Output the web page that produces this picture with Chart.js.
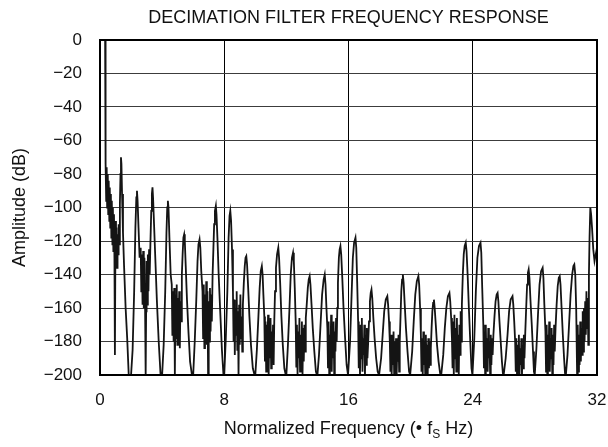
<!DOCTYPE html>
<html><head><meta charset="utf-8">
<script src="https://cdn.jsdelivr.net/npm/chart.js@4.4.1/dist/chart.umd.min.js"></script>
<style>
html,body{margin:0;padding:0;background:#fff;}
#wrap{position:relative;width:608px;height:447px;overflow:hidden;}
canvas{position:absolute;left:0;top:0;}
#xtitle{position:absolute;left:100px;width:497px;top:418px;text-align:center;font:18px "Liberation Sans", Arial, sans-serif;color:#111;white-space:nowrap;}
#xtitle sub{font-size:12px;vertical-align:-4px;line-height:0;}
</style></head><body>
<div id="wrap"><canvas id="c" width="608" height="447"></canvas>
<div id="xtitle">Normalized Frequency (• f<sub>S</sub> Hz)</div></div>
<script>
const chartTitle = "DECIMATION FILTER FREQUENCY RESPONSE";
const yAxisTitle = "Amplitude (dB)";
const xTickValues = [0, 8, 16, 24, 32];
const yTickValues = [0, -20, -40, -60, -80, -100, -120, -140, -160, -180, -200];

// Normalized frequency (x) and amplitude in dB (y)
const freqNorm = [
  0, 0.33, 0.36, 0.40, 0.43, 0.46, 0.50, 0.53, 0.56, 0.60, 0.63, 0.66, 0.70, 0.73, 0.76, 0.80, 0.83, 0.86, 0.90, 0.93, 0.96, 1.00, 1.03, 1.06, 1.10, 1.13, 1.17, 1.20, 1.24, 1.28, 1.32, 1.35, 1.38, 1.42, 1.48, 1.55, 1.65, 1.75, 1.85, 1.92,
  2.00, 2.10, 2.20, 2.28, 2.34, 2.38, 2.42, 2.48, 2.55, 2.62, 2.66, 2.70, 2.74, 2.78, 2.82, 2.86, 2.90, 2.94, 2.97, 3.00, 3.04, 3.08, 3.12, 3.16, 3.20, 3.25, 3.30, 3.34, 3.38, 3.42, 3.48, 3.56, 3.66, 3.78, 3.90,
  4.00, 4.10, 4.20, 4.28, 4.33, 4.37, 4.41, 4.47, 4.55, 4.62, 4.66, 4.70, 4.74, 4.78, 4.82, 4.86, 4.90, 4.94, 4.98, 5.02, 5.06, 5.10, 5.14, 5.18, 5.22, 5.27, 5.32, 5.37, 5.42, 5.46, 5.52, 5.60, 5.70, 5.80, 5.92,
  6.00, 6.10, 6.20, 6.28, 6.34, 6.41, 6.46, 6.52, 6.60, 6.64, 6.68, 6.72, 6.76, 6.80, 6.84, 6.88, 6.92, 6.96, 7.00, 7.04, 7.08, 7.12, 7.16, 7.20, 7.25, 7.30, 7.35, 7.40, 7.46, 7.50, 7.56, 7.64, 7.74, 7.85, 7.95,
  8.00, 8.10, 8.20, 8.28, 8.34, 8.39, 8.44, 8.50, 8.56, 8.60, 8.64, 8.68, 8.72, 8.76, 8.80, 8.84, 8.88, 8.92, 8.96, 9.00, 9.04, 9.08, 9.12, 9.16, 9.20, 9.26, 9.32, 9.37, 9.42, 9.47, 9.54, 9.62, 9.72, 9.84, 9.95,
  10.00, 10.10, 10.20, 10.28, 10.35, 10.42, 10.47, 10.52, 10.58, 10.62, 10.66, 10.70, 10.74, 10.78, 10.82, 10.86, 10.90, 10.94, 10.98, 11.02, 11.06, 11.10, 11.14, 11.18, 11.22, 11.27, 11.33, 11.40, 11.48, 11.53, 11.60, 11.68, 11.77, 11.87, 11.96,
  12.00, 12.10, 12.20, 12.28, 12.36, 12.43, 12.48, 12.54, 12.60, 12.64, 12.68, 12.72, 12.76, 12.80, 12.84, 12.88, 12.92, 12.96, 13.00, 13.04, 13.08, 13.12, 13.16, 13.20, 13.25, 13.31, 13.38, 13.44, 13.50, 13.55, 13.62, 13.70, 13.80, 13.90, 13.97,
  14.00, 14.10, 14.20, 14.30, 14.40, 14.47, 14.52, 14.58, 14.64, 14.68, 14.72, 14.76, 14.80, 14.84, 14.88, 14.92, 14.96, 15.00, 15.04, 15.08, 15.12, 15.16, 15.20, 15.24, 15.28, 15.32, 15.38, 15.43, 15.48, 15.53, 15.60, 15.68, 15.78, 15.88, 15.97,
  16.00, 16.10, 16.20, 16.28, 16.36, 16.45, 16.50, 16.56, 16.62, 16.66, 16.70, 16.74, 16.78, 16.82, 16.86, 16.90, 16.94, 16.98, 17.02, 17.06, 17.10, 17.14, 17.18, 17.22, 17.27, 17.32, 17.38, 17.43, 17.48, 17.53, 17.60, 17.68, 17.78, 17.88, 17.97,
  18.00, 18.10, 18.20, 18.30, 18.40, 18.50, 18.55, 18.61, 18.66, 18.70, 18.74, 18.78, 18.82, 18.86, 18.90, 18.94, 18.98, 19.02, 19.06, 19.10, 19.14, 19.18, 19.22, 19.26, 19.30, 19.35, 19.40, 19.45, 19.50, 19.55, 19.62, 19.70, 19.80, 19.90, 19.97,
  20.00, 20.10, 20.20, 20.30, 20.40, 20.50, 20.55, 20.61, 20.66, 20.70, 20.74, 20.78, 20.82, 20.86, 20.90, 20.94, 20.98, 21.02, 21.06, 21.10, 21.14, 21.18, 21.22, 21.26, 21.30, 21.35, 21.40, 21.45, 21.50, 21.55, 21.62, 21.70, 21.80, 21.90, 21.97,
  22.00, 22.10, 22.20, 22.30, 22.40, 22.50, 22.55, 22.61, 22.66, 22.70, 22.74, 22.78, 22.82, 22.86, 22.90, 22.94, 22.98, 23.02, 23.06, 23.10, 23.14, 23.18, 23.22, 23.26, 23.30, 23.36, 23.42, 23.48, 23.55, 23.60, 23.67, 23.75, 23.84, 23.92, 23.98,
  24.00, 24.10, 24.20, 24.30, 24.40, 24.50, 24.55, 24.61, 24.68, 24.72, 24.76, 24.80, 24.84, 24.88, 24.92, 24.96, 25.00, 25.04, 25.08, 25.12, 25.16, 25.20, 25.24, 25.28, 25.33, 25.40, 25.47, 25.54, 25.60, 25.65, 25.72, 25.80, 25.88, 25.94, 25.99,
  26.00, 26.12, 26.24, 26.34, 26.44, 26.56, 26.61, 26.67, 26.73, 26.77, 26.81, 26.85, 26.89, 26.93, 26.97, 27.01, 27.05, 27.09, 27.13, 27.17, 27.21, 27.25, 27.29, 27.33, 27.38, 27.44, 27.50, 27.55, 27.60, 27.65, 27.72, 27.80, 27.88, 27.94, 27.99,
  28.00, 28.10, 28.20, 28.30, 28.40, 28.50, 28.55, 28.61, 28.68, 28.72, 28.76, 28.80, 28.84, 28.88, 28.92, 28.96, 29.00, 29.04, 29.08, 29.12, 29.16, 29.20, 29.24, 29.28, 29.33, 29.40, 29.47, 29.54, 29.60, 29.65, 29.72, 29.80, 29.88, 29.94, 29.99,
  30.00, 30.10, 30.20, 30.30, 30.40, 30.48, 30.54, 30.60, 30.66, 30.72, 30.76, 30.80, 30.84, 30.88, 30.92, 30.96, 31.00, 31.04, 31.08, 31.12, 31.16, 31.20, 31.24, 31.28, 31.32, 31.36, 31.40, 31.44, 31.48, 31.52, 31.57, 31.62, 31.68, 31.76, 31.84, 31.92, 32.00
];
const amplitudeDb = [
  0, 0, -74, -96, -76, -100, -80, -104, -84, -108, -88, -112, -92, -118, -96, -122, -100, -126, -104, -130, -188, -108, -132, -112, -136, -116, -128, -110, -122, -98, -80, -70, -74, -92, -115, -135, -160, -178, -200, -200,
  -200, -185, -150, -112, -94, -90, -96, -112, -130, -124, -150, -128, -158, -126, -160, -130, -156, -200, -162, -132, -158, -128, -150, -125, -140, -120, -102, -92, -88, -95, -110, -130, -155, -180, -200,
  -200, -182, -150, -115, -100, -96, -100, -118, -140, -146, -176, -150, -180, -148, -200, -152, -178, -146, -182, -154, -172, -150, -184, -156, -168, -140, -128, -118, -116, -120, -135, -155, -175, -192, -200,
  -200, -180, -155, -132, -122, -119, -124, -138, -150, -178, -146, -184, -152, -176, -144, -182, -150, -200, -156, -180, -148, -174, -152, -168, -140, -125, -110, -102, -99, -104, -118, -140, -162, -185, -200,
  -200, -178, -150, -118, -105, -102, -108, -125, -150, -180, -155, -188, -160, -176, -150, -185, -162, -200, -158, -182, -152, -178, -165, -186, -158, -145, -135, -130, -129, -134, -148, -165, -182, -196, -200,
  -200, -185, -165, -148, -138, -135, -140, -152, -165, -192, -168, -198, -170, -186, -164, -200, -172, -190, -166, -196, -174, -188, -170, -194, -168, -150, -136, -128, -124, -130, -145, -165, -182, -196, -200,
  -200, -182, -160, -140, -130, -127, -132, -148, -168, -195, -170, -200, -174, -190, -166, -198, -176, -188, -168, -200, -172, -192, -170, -186, -166, -158, -148, -143, -141, -146, -158, -172, -186, -198, -200,
  -200, -188, -170, -152, -143, -140, -146, -160, -172, -196, -168, -200, -176, -188, -164, -198, -172, -190, -168, -200, -174, -186, -166, -180, -160, -145, -130, -125, -123, -128, -142, -160, -178, -194, -200,
  -200, -180, -152, -130, -121, -118, -124, -145, -168, -196, -172, -200, -170, -190, -166, -198, -178, -188, -170, -200, -176, -194, -172, -190, -180, -168, -156, -151, -149, -154, -166, -178, -190, -198, -200,
  -200, -190, -176, -162, -155, -153, -158, -168, -180, -198, -176, -200, -182, -194, -174, -200, -180, -196, -178, -200, -184, -192, -176, -198, -180, -165, -150, -143, -140, -145, -158, -172, -186, -198, -200,
  -200, -186, -168, -152, -144, -141, -146, -160, -176, -198, -178, -200, -174, -194, -180, -200, -176, -192, -182, -200, -178, -196, -180, -194, -184, -172, -162, -157, -155, -160, -170, -182, -192, -199, -200,
  -200, -188, -172, -160, -153, -151, -156, -166, -178, -196, -168, -200, -164, -190, -172, -198, -166, -194, -176, -200, -170, -188, -162, -180, -158, -140, -128, -123, -121, -126, -140, -160, -180, -196, -200,
  -200, -178, -150, -130, -123, -121, -127, -148, -170, -196, -174, -200, -170, -192, -178, -198, -172, -190, -180, -200, -176, -194, -178, -188, -176, -165, -156, -152, -151, -156, -168, -180, -192, -199, -200,
  -200, -190, -176, -162, -155, -153, -158, -168, -180, -198, -178, -200, -182, -196, -176, -200, -184, -194, -178, -200, -182, -196, -176, -190, -175, -160, -146, -139, -137, -142, -156, -170, -186, -198, -200,
  -200, -184, -164, -146, -138, -136, -142, -158, -174, -198, -170, -200, -176, -192, -168, -198, -178, -190, -172, -200, -176, -194, -170, -186, -172, -158, -147, -142, -141, -146, -160, -176, -190, -199, -200,
  -200, -188, -170, -152, -140, -135, -134, -140, -160, -200, -170, -198, -176, -194, -168, -192, -172, -188, -162, -186, -160, -180, -156, -176, -150, -172, -154, -182, -140, -118, -100, -104, -112, -125, -132, -128, -124
];

const points = freqNorm.map((f, i) => ({ x: f, y: amplitudeDb[i] }));
const FONT = '"Liberation Sans", Arial, sans-serif';

const framePlugin = {
  id: 'frame',
  afterDraw(chart) {
    const { ctx, chartArea: a } = chart;
    ctx.save();
    ctx.strokeStyle = '#000';
    ctx.lineWidth = 2;
    ctx.strokeRect(a.left, a.top, a.right - a.left, a.bottom - a.top);
    ctx.fillStyle = '#111';
    ctx.font = '18px ' + FONT;
    ctx.textAlign = 'center';
    ctx.textBaseline = 'middle';
    ctx.fillText(chartTitle, (a.left + a.right) / 2, 18);
    ctx.restore();
  }
};

new Chart(document.getElementById('c'), {
  type: 'scatter',
  data: { datasets: [{
    data: points, showLine: true, borderColor: '#141414', borderWidth: 1.8,
    pointRadius: 0, tension: 0, fill: false
  }]},
  options: {
    responsive: false, animation: false,
    layout: { padding: { top: 40, right: 11, left: 0, bottom: 0 } },
    plugins: { legend: { display: false }, tooltip: { enabled: false }, title: { display: false } },
    scales: {
      x: {
        type: 'linear', min: 0, max: 32,
        afterBuildTicks: s => { s.ticks = xTickValues.map(v => ({ value: v })); },
        afterFit: s => { s.height = 72; s.paddingLeft = 0; s.paddingRight = 0; },
        grid: { color: '#000', lineWidth: 1, drawTicks: false },
        border: { display: false },
        ticks: { padding: 15, color: '#111', font: { family: FONT, size: 17 }, maxRotation: 0 }
      },
      y: {
        type: 'linear', min: -200, max: 0,
        afterBuildTicks: s => { s.ticks = yTickValues.map(v => ({ value: v })); },
        afterFit: s => { s.width = 100; s.paddingTop = 0; s.paddingBottom = 0; },
        grid: { color: '#3c3c3c', lineWidth: 1, drawTicks: false },
        border: { display: false },
        title: { display: true, text: yAxisTitle, color: '#111', font: { family: FONT, size: 18 }, padding: { top: 9, bottom: 0 } },
        ticks: { padding: 18, color: '#111', font: { family: FONT, size: 17 },
          callback: v => v === 0 ? '0' : '\u2212' + Math.abs(v) }
      }
    }
  },
  plugins: [framePlugin]
});
</script>
</body></html>
